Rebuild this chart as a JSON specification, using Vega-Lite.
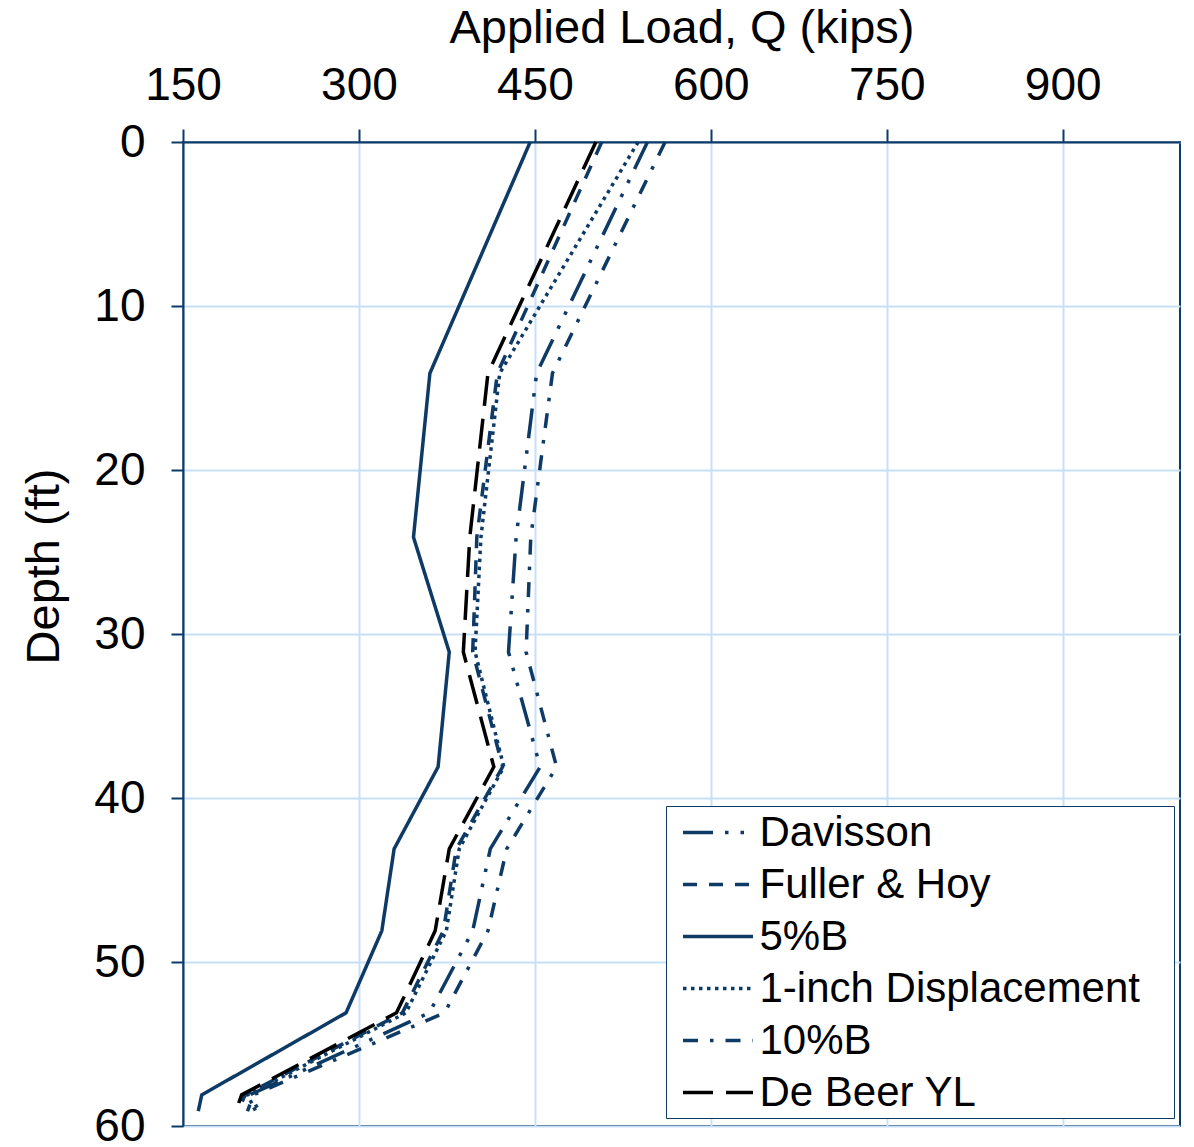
{
  "$schema": "https://vega.github.io/schema/vega-lite/v6.json",
  "autosize": {"type": "none"},
  "padding": {"left": 183, "top": 142, "right": 14, "bottom": 21},
  "width": 997,
  "height": 984,
  "background": "white",
  "config": {
    "font": "Liberation Sans",
    "view": {"stroke": "#0E3A66", "strokeWidth": 2}
  },
  "data": {
    "values": [
      {"method": "Davisson", "depth": 0, "load": 546},
      {"method": "Davisson", "depth": 14.1, "load": 451.5},
      {"method": "Davisson", "depth": 24.1, "load": 434},
      {"method": "Davisson", "depth": 31.1, "load": 427.5},
      {"method": "Davisson", "depth": 38.1, "load": 454.5},
      {"method": "Davisson", "depth": 43.1, "load": 412},
      {"method": "Davisson", "depth": 48.1, "load": 397},
      {"method": "Davisson", "depth": 53.1, "load": 360},
      {"method": "Davisson", "depth": 58.1, "load": 207},
      {"method": "Davisson", "depth": 59.1, "load": 215},

      {"method": "Fuller & Hoy", "depth": 0, "load": 507},
      {"method": "Fuller & Hoy", "depth": 14.1, "load": 418},
      {"method": "Fuller & Hoy", "depth": 24.1, "load": 400.5},
      {"method": "Fuller & Hoy", "depth": 31.1, "load": 397},
      {"method": "Fuller & Hoy", "depth": 38.1, "load": 422.5},
      {"method": "Fuller & Hoy", "depth": 43.1, "load": 383},
      {"method": "Fuller & Hoy", "depth": 48.1, "load": 372},
      {"method": "Fuller & Hoy", "depth": 53.1, "load": 337},
      {"method": "Fuller & Hoy", "depth": 58.1, "load": 203},
      {"method": "Fuller & Hoy", "depth": 59.1, "load": 197},

      {"method": "5%B", "depth": 0, "load": 446},
      {"method": "5%B", "depth": 14.1, "load": 360.5},
      {"method": "5%B", "depth": 24.1, "load": 346.5},
      {"method": "5%B", "depth": 31.1, "load": 377},
      {"method": "5%B", "depth": 38.1, "load": 367.5},
      {"method": "5%B", "depth": 43.1, "load": 330},
      {"method": "5%B", "depth": 48.1, "load": 319.5},
      {"method": "5%B", "depth": 53.1, "load": 289},
      {"method": "5%B", "depth": 58.1, "load": 166},
      {"method": "5%B", "depth": 59.1, "load": 163},

      {"method": "1-inch Displacement", "depth": 0, "load": 538},
      {"method": "1-inch Displacement", "depth": 14.1, "load": 420},
      {"method": "1-inch Displacement", "depth": 24.1, "load": 404},
      {"method": "1-inch Displacement", "depth": 31.1, "load": 399},
      {"method": "1-inch Displacement", "depth": 38.1, "load": 423.5},
      {"method": "1-inch Displacement", "depth": 43.1, "load": 385.5},
      {"method": "1-inch Displacement", "depth": 48.1, "load": 374.5},
      {"method": "1-inch Displacement", "depth": 53.1, "load": 340},
      {"method": "1-inch Displacement", "depth": 58.1, "load": 205},
      {"method": "1-inch Displacement", "depth": 59.1, "load": 212},

      {"method": "10%B", "depth": 0, "load": 561},
      {"method": "10%B", "depth": 14.1, "load": 465},
      {"method": "10%B", "depth": 24.1, "load": 446.5},
      {"method": "10%B", "depth": 31.1, "load": 442.5},
      {"method": "10%B", "depth": 38.1, "load": 468.5},
      {"method": "10%B", "depth": 43.1, "load": 426},
      {"method": "10%B", "depth": 48.1, "load": 410},
      {"method": "10%B", "depth": 53.1, "load": 373},
      {"method": "10%B", "depth": 58.1, "load": 210},
      {"method": "10%B", "depth": 59.1, "load": 205},

      {"method": "De Beer YL", "depth": 0, "load": 502},
      {"method": "De Beer YL", "depth": 14.1, "load": 410},
      {"method": "De Beer YL", "depth": 24.1, "load": 394.5},
      {"method": "De Beer YL", "depth": 31.1, "load": 389},
      {"method": "De Beer YL", "depth": 38.1, "load": 415},
      {"method": "De Beer YL", "depth": 43.1, "load": 377},
      {"method": "De Beer YL", "depth": 48.1, "load": 365},
      {"method": "De Beer YL", "depth": 53.1, "load": 332},
      {"method": "De Beer YL", "depth": 58.1, "load": 200},
      {"method": "De Beer YL", "depth": 59.1, "load": 195}
    ]
  },
  "mark": {"type": "line", "strokeWidth": 3.5, "strokeCap": "butt", "strokeJoin": "miter"},
  "encoding": {
    "x": {
      "field": "load",
      "type": "quantitative",
      "scale": {"domain": [150, 1000], "nice": false, "zero": false},
      "axis": {
        "orient": "top",
        "title": "Applied Load, Q (kips)",
        "values": [150, 300, 450, 600, 750, 900],
        "labelFontSize": 46,
        "labelColor": "black",
        "labelPadding": 20,
        "labelFlush": false,
        "titleFontSize": 47,
        "titleFontWeight": "normal",
        "titleColor": "black",
        "titlePadding": 10,
        "tickSize": 13,
        "tickWidth": 2,
        "tickColor": "#0E3A66",
        "domainColor": "#0E3A66",
        "domainWidth": 2,
        "grid": true,
        "gridColor": "#C8E0F6",
        "gridWidth": 2
      }
    },
    "y": {
      "field": "depth",
      "type": "quantitative",
      "scale": {"domain": [0, 60], "nice": false, "reverse": true},
      "axis": {
        "title": "Depth (ft)",
        "values": [0, 10, 20, 30, 40, 50, 60],
        "labelFontSize": 46,
        "labelColor": "black",
        "labelPadding": 26,
        "labelFlush": false,
        "titleFontSize": 47,
        "titleFontWeight": "normal",
        "titleColor": "black",
        "titleX": -125,
        "titleY": 424,
        "titleBaseline": "alphabetic",
        "tickSize": 12,
        "tickWidth": 2,
        "tickColor": "#0E3A66",
        "domainColor": "#0E3A66",
        "domainWidth": 2,
        "grid": true,
        "gridColor": "#C8E0F6",
        "gridWidth": 2
      }
    },
    "order": {"field": "depth", "type": "quantitative"},
    "color": {
      "field": "method",
      "type": "nominal",
      "scale": {
        "domain": ["Davisson", "Fuller & Hoy", "5%B", "1-inch Displacement", "10%B", "De Beer YL"],
        "range": ["#0E3A66", "#0E3A66", "#0E3A66", "#0E3A66", "#0E3A66", "#000000"]
      },
      "legend": {
        "title": null,
        "orient": "none",
        "legendX": 483,
        "legendY": 664,
        "symbolType": "M-1.75,0H1.75",
        "symbolSize": 1600,
        "symbolStrokeWidth": 3.5,
        "symbolOffset": 25.5,
        "labelFontSize": 42,
        "labelColor": "black",
        "labelOffset": 19.5,
        "labelLimit": 600,
        "labelExpr": "datum.label == '1-inch Displacement' ? datum.label + '\u2002\u2009\u200b' : datum.label",
        "rowPadding": 9,
        "padding": 4.5,
        "strokeColor": "#0E3A66",
        "fillColor": "white"
      }
    },
    "strokeDash": {
      "field": "method",
      "type": "nominal",
      "scale": {
        "domain": ["Davisson", "Fuller & Hoy", "5%B", "1-inch Displacement", "10%B", "De Beer YL"],
        "range": [[30, 12, 3.5, 12, 3.5, 12], [14, 12], [1, 0], [3.5, 4.5], [15, 12, 3.5, 12], [30, 13]]
      },
      "legend": null
    }
  }
}
